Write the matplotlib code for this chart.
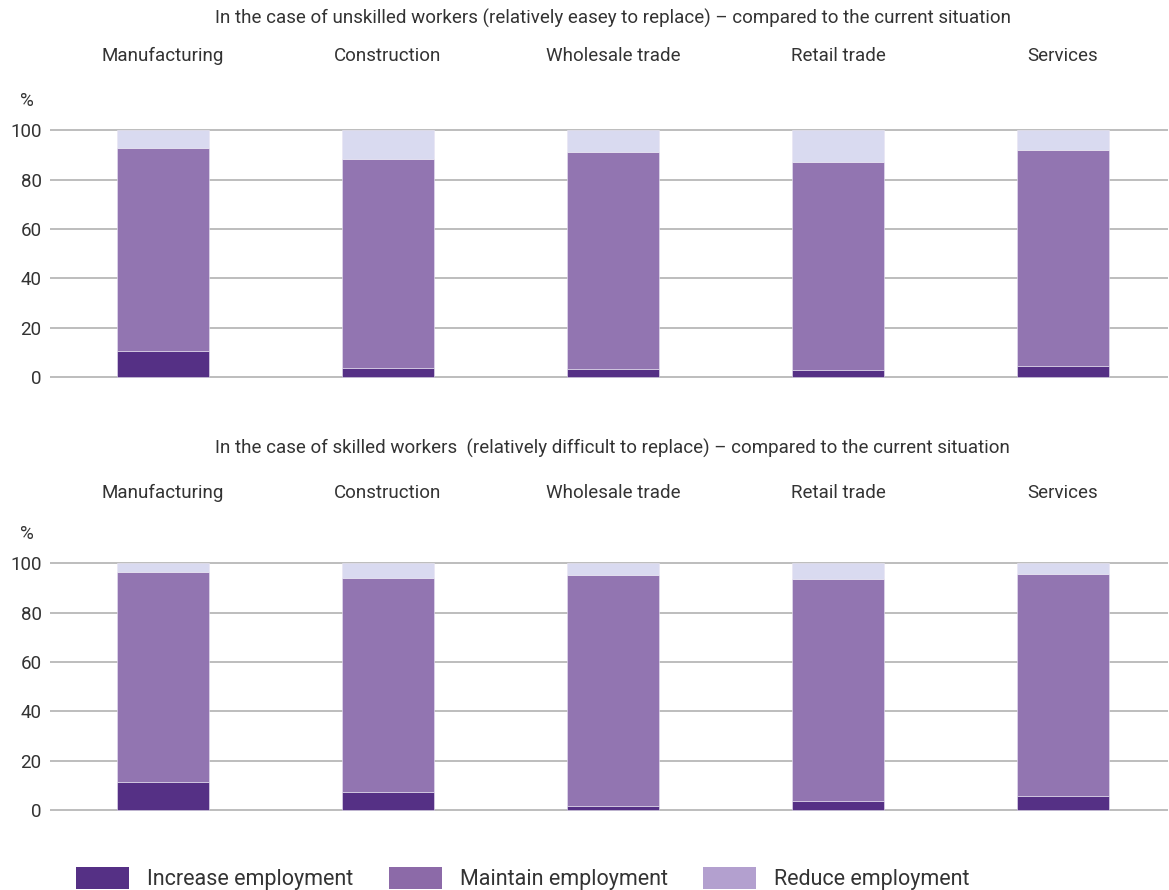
import matplotlib
matplotlib.use("Agg")
import matplotlib.pyplot as plt
from matplotlib.patches import Patch
import numpy as np

plt.rcParams['font.family'] = ['Roboto', 'DejaVu Sans']

sectors = ["Manufacturing", "Construction", "Wholesale trade", "Retail trade", "Services"]
series = ["Increase employment", "Maintain employment", "Reduce employment"]

# unskilled workers, % of firms
unskilled_increase = [10.6, 3.7, 3.0, 2.6, 4.3]
unskilled_maintain = [82.1, 84.8, 88.0, 84.7, 87.6]
unskilled_reduce = [7.3, 11.5, 9.0, 12.7, 8.1]

# skilled workers, % of firms
skilled_increase = [11.1, 7.2, 1.6, 3.4, 5.7]
skilled_maintain = [85.4, 86.7, 93.5, 90.4, 90.0]
skilled_reduce = [3.5, 6.1, 4.9, 6.2, 4.3]

titles = [
    "In the case of unskilled workers (relatively easey to replace) \u2013 compared to the current situation",
    "In the case of skilled workers  (relatively difficult to replace) \u2013 compared to the current situation",
]

bar_colors = ["#553085", "#9275b1", "#d9daf0"]
legend_colors = ["#553085", "#8c6aa8", "#b3a0cf"]
grid_color = "#bdbdbd"
text_color = "#333333"

fig = plt.figure(figsize=(11.69, 8.90), dpi=100)

panels = [
    (unskilled_increase, unskilled_maintain, unskilled_reduce),
    (skilled_increase, skilled_maintain, skilled_reduce),
]
axes_pos = [
    [0.0428, 0.5752, 0.9564, 0.2798],
    [0.0428, 0.0887, 0.9564, 0.2798],
]
title_y = [0.979, 0.496]
pct_y = [0.886, 0.400]
label_pad = [46, 43]

x = np.arange(len(sectors))
width = 0.413

for k, (inc, mai, red) in enumerate(panels):
    ax = fig.add_axes(axes_pos[k])
    inc = np.array(inc)
    mai = np.array(mai)
    red = np.array(red)
    ax.bar(x, inc, width, color=bar_colors[0], edgecolor="#e8e4f2", linewidth=0.4, zorder=3)
    ax.bar(x, mai, width, bottom=inc, color=bar_colors[1], edgecolor="#e8e4f2", linewidth=0.4, zorder=3)
    ax.bar(x, red, width, bottom=inc + mai, color=bar_colors[2], edgecolor="#e8e4f2", linewidth=0.4, zorder=3)

    ax.set_xlim(-0.502, 4.467)
    ax.set_ylim(-0.5, 100.5)
    ax.set_yticks([0, 20, 40, 60, 80, 100])
    ax.yaxis.grid(True, color=grid_color, linewidth=1.4, zorder=0)
    ax.set_axisbelow(True)
    for s in ax.spines.values():
        s.set_visible(False)
    ax.tick_params(axis='y', length=0, pad=6, labelsize=13.5, labelcolor=text_color)

    ax.xaxis.tick_top()
    ax.set_xticks(x)
    ax.set_xticklabels(sectors)
    ax.tick_params(axis='x', length=0, pad=label_pad[k], labelsize=13.5, labelcolor=text_color)

    fig.text(0.524, title_y[k], titles[k], ha='center', va='center',
             fontsize=13.5, color=text_color)
    fig.text(0.023, pct_y[k], "%", ha='center', va='center',
             fontsize=13.5, color=text_color)

handles = [Patch(facecolor=c, edgecolor='none') for c in legend_colors]
fig.legend(handles, series, loc='lower left', bbox_to_anchor=(0.065, 0.0),
           ncol=3, frameon=False, fontsize=15.5, handlelength=2.45, handleheight=1.2,
           handletextpad=0.85, columnspacing=1.65, borderpad=0, borderaxespad=0,
           labelcolor=text_color)

fig.savefig("out.png", dpi=100)
